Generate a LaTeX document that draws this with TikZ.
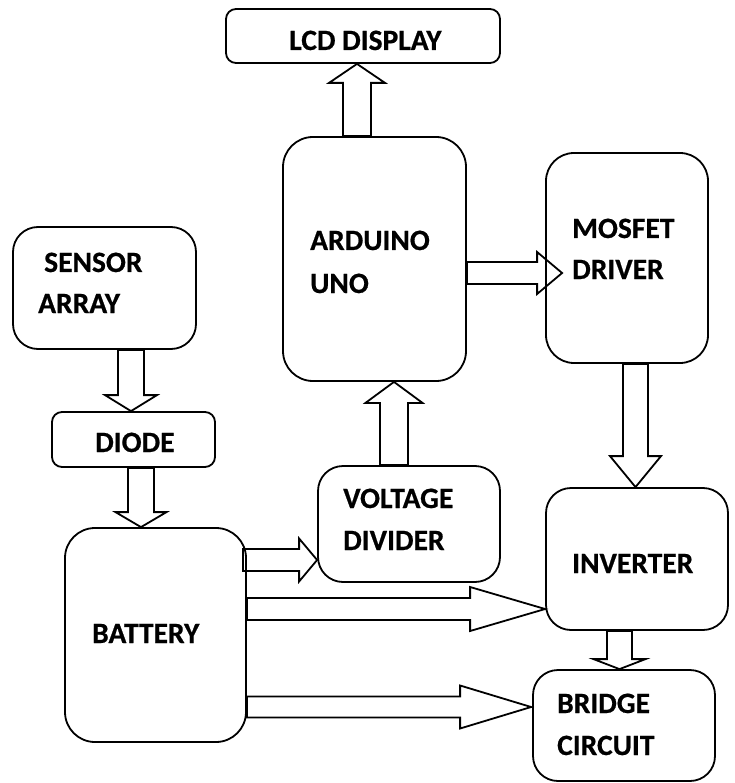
\documentclass[tikz,border=0pt]{standalone}
\usepackage{fontspec}
\setmainfont{Carlito}
\newfontfamily\lblfont{Carlito}[UprightFont=*-Bold, UprightFeatures={FakeBold=0.6}]
\usetikzlibrary{calc,fit}
\tikzset{
  box/.style={draw, line width=1.8pt, inner sep=0pt},
  lbl/.style={anchor=base west, inner sep=0pt, font=\fontsize{29.5}{35}\lblfont},
  blk/.style={draw, line width=1.8pt, line join=miter},
}
% #1 from, #2 tip, #3 shaft half width, #4 head half width, #5 head length
\newcommand\blockarrow[5]{%
  \draw[blk] let \p1=(#1), \p2=(#2), \n1={atan2(\y2-\y1,\x2-\x1)} in
    ($(\p1)+(\n1+90:#3pt)$)
    -- ($(\p2)+(\n1+180:#5pt)+(\n1+90:#3pt)$)
    -- ($(\p2)+(\n1+180:#5pt)+(\n1+90:#4pt)$)
    -- (\p2)
    -- ($(\p2)+(\n1+180:#5pt)+(\n1-90:#4pt)$)
    -- ($(\p2)+(\n1+180:#5pt)+(\n1-90:#3pt)$)
    -- ($(\p1)+(\n1-90:#3pt)$) -- cycle;}
\begin{document}
\begin{tikzpicture}[x=1pt,y=-1pt]
\useasboundingbox (0,0) rectangle (734,783);
% boxes
\node[box, rounded corners=10pt, fit={(226,9) (500,63)}] (lcd) {};
\node[box, rounded corners=30pt, fit={(283,137) (466,381)}] (ard) {};
\node[box, rounded corners=28pt, fit={(546,153) (708,363)}] (mos) {};
\node[box, rounded corners=25pt, fit={(13,227) (196,349)}] (sensor) {};
\node[box, rounded corners=10pt, fit={(52,412) (215,467)}] (diode) {};
\node[box, rounded corners=25pt, fit={(318,466) (500,582)}] (vd) {};
\node[box, rounded corners=30pt, fit={(65,528) (246,742)}] (bat) {};
\node[box, rounded corners=25pt, fit={(546,488) (728,630)}] (inv) {};
\node[box, rounded corners=25pt, fit={(533,670) (715,781)}] (bri) {};
% labels
\node[lbl] (tlcd) at (289,50) {LCD DISPLAY};
\node[lbl] (tsen1) at (44,272) {SENSOR};
\node[lbl] (tsen2) at (38,313) {ARRAY};
\node[lbl] (tdio) at (95,452) {DIODE};
\node[lbl] (tard1) at (310,250) {ARDUINO};
\node[lbl] (tard2) at (310,293) {UNO};
\node[lbl] (tmos1) at (572,238) {MOSFET};
\node[lbl] (tmos2) at (572,279) {DRIVER};
\node[lbl] (tvd1) at (343,508) {VOLTAGE};
\node[lbl] (tvd2) at (343,550) {DIVIDER};
\node[lbl] (tbat) at (92,643) {BATTERY};
\node[lbl] (tinv) at (572,573) {INVERTER};
\node[lbl] (tbr1) at (557,713) {BRIDGE};
\node[lbl] (tbr2) at (557,755) {CIRCUIT};
% block arrows
\blockarrow{$(sensor.south -| diode.north)+(-2.5,0)$}{$(diode.north)+(-2.5,0)$}{13}{26}{16}
\blockarrow{$(diode.south)+(7.5,0)$}{$(bat.north -| diode.south)+(7.5,0)$}{13}{25.5}{15}
\blockarrow{$(vd.north)+(-15,0)$}{$(ard.south -| vd.north)+(-15,0)$}{14}{28.5}{21}
\blockarrow{$(ard.north)+(-17.5,0)$}{$(lcd.south -| ard.north)+(-17.5,0)$}{14}{28}{19}
\blockarrow{$(ard.east)+(0,14)$}{$(ard.east -| mos.west)+(17,14)$}{11}{21}{25}
\blockarrow{$(mos.south -| inv.north)+(-1.5,0)$}{$(inv.north)+(-1.5,0)$}{12.5}{25.5}{31}
\blockarrow{$(inv.south -| bri.north)+(-4.5,0)$}{$(bri.north)+(-4.5,0)$}{12.5}{26}{10}
\blockarrow{$(bat.east |- vd.west)+(-4,36)$}{$(vd.west)+(0,36)$}{11}{21.5}{18}
\blockarrow{$(bat.east |- inv.west)+(0,50)$}{$(inv.west)+(0,50)$}{11}{22}{75}
\blockarrow{$(bat.east |- bri.west)+(0,-18.5)$}{$(bri.west)+(-1,-18.5)$}{10.5}{21.5}{71}
\end{tikzpicture}
\end{document}
